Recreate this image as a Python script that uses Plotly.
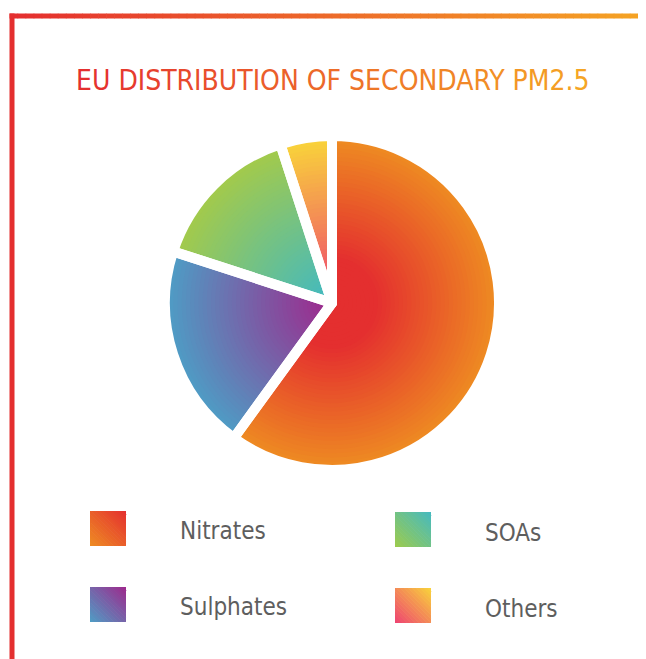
import plotly.graph_objects as go

# ---------------- data ----------------
categories = ["Nitrates", "Sulphates", "SOAs", "Others"]
shares = [60, 20, 15, 5]
title_text = "EU DISTRIBUTION OF SECONDARY PM2.5"

# ---------------- styling ----------------
W, H = 646, 659
OFF = 8  # page body margin offset
FONT = "Liberation Sans Narrow, DejaVu Sans Condensed, Roboto, sans-serif"
# radial gradient colours of the pie (outer edge -> centre)
outer_cols = ["#EE8C22", "#4E9DC5", "#A4CA4A", "#F9D43A"]
inner_cols = ["#E42F2F", "#9E288C", "#40B9C3", "#EE4272"]
# legend swatch colours (bottom-left -> top-right)
leg_bl = ["#EE8C22", "#4E9DC5", "#9DCB4B", "#EE4272"]
leg_tr = ["#E42F2F", "#9E288C", "#45BAC0", "#F9D43A"]


def hex2rgb(h):
    h = h.lstrip("#")
    return tuple(int(h[i:i + 2], 16) for i in (0, 2, 4))


def mix(c1, c2, t):
    a, b = hex2rgb(c1), hex2rgb(c2)
    return "rgb(%d,%d,%d)" % tuple(round(a[i] + (b[i] - a[i]) * t) for i in range(3))


def px(x):
    return (x - OFF) / W


def py(y):
    return 1 - (y - OFF) / H


cx, cy, R = 332, 303, 167


def dom(r):
    return dict(x=[px(cx - r), px(cx + r)], y=[py(cy + r), py(cy - r)])


fig = go.Figure()

# concentric pies to imitate radial gradients
N = 40
for k in range(N):
    r = R * (1 - k / N)
    t = k / (N - 1)
    cols = []
    for i in range(len(categories)):
        tt = min(1.0, t * 1.35) if i == 0 else t
        cols.append(mix(outer_cols[i], inner_cols[i], tt))
    fig.add_trace(go.Pie(
        labels=categories, values=shares, sort=False, direction="clockwise",
        rotation=0, domain=dom(r), textinfo="none", hoverinfo="skip",
        marker=dict(colors=cols, line=dict(width=0)), showlegend=False,
    ))

# white separators on top
fig.add_trace(go.Pie(
    labels=categories, values=shares, sort=False, direction="clockwise",
    rotation=0, domain=dom(R), textinfo="none", hoverinfo="label+percent",
    marker=dict(colors=["rgba(0,0,0,0)"] * 4, line=dict(color="white", width=10)),
    showlegend=False,
))

shapes = []
# frame: left red line
shapes.append(dict(type="rect", xref="paper", yref="paper",
                   x0=px(9.5), x1=px(14.5), y0=py(H + OFF + 2), y1=py(13.5),
                   fillcolor="#E42F2F", line=dict(width=0), layer="above"))
# top gradient line
NS = 80
x_start, x_end = 9.5, W + OFF
for s in range(NS):
    xa = x_start + (x_end - x_start) * s / NS
    xb = x_start + (x_end - x_start) * (s + 1) / NS + 0.6
    shapes.append(dict(type="rect", xref="paper", yref="paper",
                       x0=px(xa), x1=px(xb), y0=py(18.5), y1=py(13.5),
                       fillcolor=mix("#E42F2F", "#F5A524", s / (NS - 1)),
                       line=dict(width=0), layer="above"))


# legend swatches with diagonal gradients
def clip(poly, f):
    out = []
    n = len(poly)
    for i in range(n):
        p, q = poly[i], poly[(i + 1) % n]
        fp, fq = f(p), f(q)
        if fp >= 0:
            out.append(p)
        if (fp >= 0) != (fq >= 0):
            t = fp / (fp - fq)
            out.append((p[0] + (q[0] - p[0]) * t, p[1] + (q[1] - p[1]) * t))
    return out


sw_pos = [(90, 511), (90, 587), (395, 512), (395, 588)]
SW, SH = 36, 35
NB = 18
for i, (x0, y0) in enumerate(sw_pos):
    sq = [(0, 0), (SW, 0), (SW, SH), (0, SH)]  # u right, v up from bottom-left
    tot = SW + SH
    for b in range(NB):
        a0 = tot * b / NB
        a1 = tot * (b + 1) / NB + 0.8
        poly = clip(sq, lambda p, a0=a0: p[0] + p[1] - a0)
        poly = clip(poly, lambda p, a1=a1: a1 - (p[0] + p[1]))
        if len(poly) < 3:
            continue
        path = "M " + " L ".join(
            "%f,%f" % (px(x0 + u), py(y0 + SH - v)) for u, v in poly) + " Z"
        shapes.append(dict(type="path", xref="paper", yref="paper", path=path,
                           fillcolor=mix(leg_bl[i], leg_tr[i], (b + 0.5) / NB),
                           line=dict(width=0)))

annotations = []
lab_pos = [(178, 531), (178, 607), (483, 533), (483, 609)]
for i, (lx, ly) in enumerate(lab_pos):
    annotations.append(dict(text=categories[i], xref="paper", yref="paper",
                            x=px(lx), y=py(ly), xanchor="left", yanchor="middle",
                            showarrow=False,
                            font=dict(family=FONT, size=24, color="#5E5E5E")))

# gradient-coloured title (per-character colours)
chars = list(title_text)
spans = []
for j, ch in enumerate(chars):
    c = mix("#E42F2F", "#F5A524", j / (len(chars) - 1))
    spans.append('<span style="color:%s">%s</span>' % (c, ch if ch != " " else "&nbsp;"))
annotations.append(dict(text="".join(spans), xref="paper", yref="paper",
                        x=px(333), y=py(81), xanchor="center", yanchor="middle",
                        showarrow=False,
                        font=dict(family=FONT, size=28, color="#E42F2F")))

fig.update_layout(
    width=W, height=H,
    margin=dict(l=0, r=0, t=0, b=0),
    paper_bgcolor="white", plot_bgcolor="white",
    shapes=shapes, annotations=annotations, showlegend=False,
)

fig.write_html("out.html")
